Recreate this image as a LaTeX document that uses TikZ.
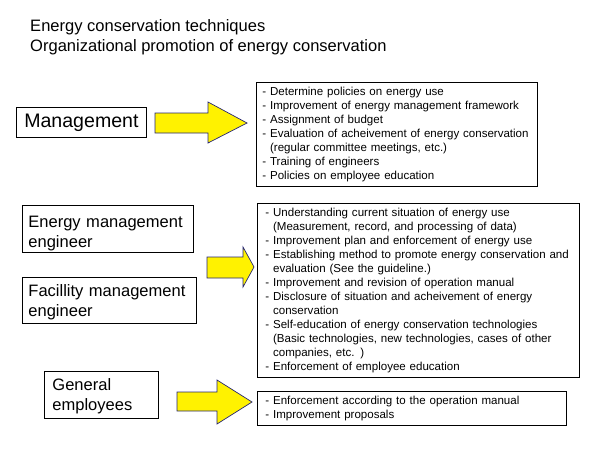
\documentclass[tikz,border=0pt]{standalone}
\usepackage{fontspec}
\setmainfont{Liberation Sans}
\usepackage{tikz}
\newlength\px
\setlength\px{0.03cm}
\definecolor{arrowline}{rgb}{0.15,0.15,0.45}

\begin{document}
\begin{tikzpicture}[x=0.03cm,y=-0.03cm,
	box/.style={draw=black,line width=0.7pt,rectangle,anchor=north west,align=left,inner ysep=0pt},
	role/.style={box,font=\fontsize{14.1}{17}\selectfont},
	list/.style={box,font=\fontsize{9.85}{11.9}\selectfont},
	yarrow/.style={draw=arrowline,line width=0.6pt,fill=yellow,line join=miter}]
	\useasboundingbox (0,0) rectangle (600,450);
	% title
	\node [anchor=base west,inner sep=0pt,font=\fontsize{14.1}{17}\selectfont] (title1) at (30,32) {Energy conservation techniques};
	\node [anchor=base west,inner sep=0pt,font=\fontsize{14.1}{17}\selectfont] (title2) at (30,52) {Organizational promotion of energy conservation};
	% who
	\node [box,align=center,inner xsep=0pt,minimum width=130\px,minimum height=30\px,font=\fontsize{16.7}{20}\selectfont] (mgmt) at (16,107) {Management};
	\node [role,inner xsep=6\px,text width=159\px,text height=16.9pt,minimum height=47\px] (emeng) at (22,205) {Energy management\\engineer};
	\node [role,inner xsep=6\px,text width=162\px,text height=13.5pt,minimum height=46\px] (fmeng) at (22,277) {Facillity management\\engineer};
	\node [role,inner xsep=8\px,text width=98\px,text height=11.8pt,minimum height=47\px] (staff) at (44,371) {General\\employees};
	% what
	\node [list,inner xsep=6\px,text width=269\px,minimum height=104\px] (mgmtlist) at (256,82) {%
		- Determine policies on energy use\\
		- Improvement of energy management framework\\
		- Assignment of budget\\
		- Evaluation of acheivement of energy conservation\\
		\hphantom{- }(regular committee meetings, etc.)\\
		- Training of engineers\\
		- Policies on employee education};
	\node [list,inner xsep=8\px,text width=306\px,minimum height=174\px] (englist) at (257,203) {%
		- Understanding current situation of energy use\\
		\hphantom{- }(Measurement, record, and processing of data)\\
		- Improvement plan and enforcement of energy use\\
		- Establishing method to promote energy conservation and\\
		\hphantom{- }evaluation (See the guideline.)\\
		- Improvement and revision of operation manual\\
		- Disclosure of situation and acheivement of energy\\
		\hphantom{- }conservation\\
		- Self-education of energy conservation technologies\\
		\hphantom{- }(Basic technologies, new technologies, cases of other\\
		\hphantom{- }companies, etc. )\\
		- Enforcement of employee education};
	\node [list,inner xsep=8\px,text width=293\px,minimum height=34\px] (stafflist) at (257,391) {%
		- Enforcement according to the operation manual\\
		- Improvement proposals};
	% block arrows
	\draw [yarrow] (155,113) -- (208,113) -- (208,102) -- (247,123) -- (208,143) -- (208,133) -- (155,133) -- cycle;
	\draw [yarrow] (207,257) -- (243,257) -- (243,247) -- (254,267) -- (243,287) -- (243,278) -- (207,278) -- cycle;
	\draw [yarrow] (177,392) -- (217,392) -- (217,380) -- (252,402) -- (217,424) -- (217,411) -- (177,411) -- cycle;
\end{tikzpicture}
\end{document}
